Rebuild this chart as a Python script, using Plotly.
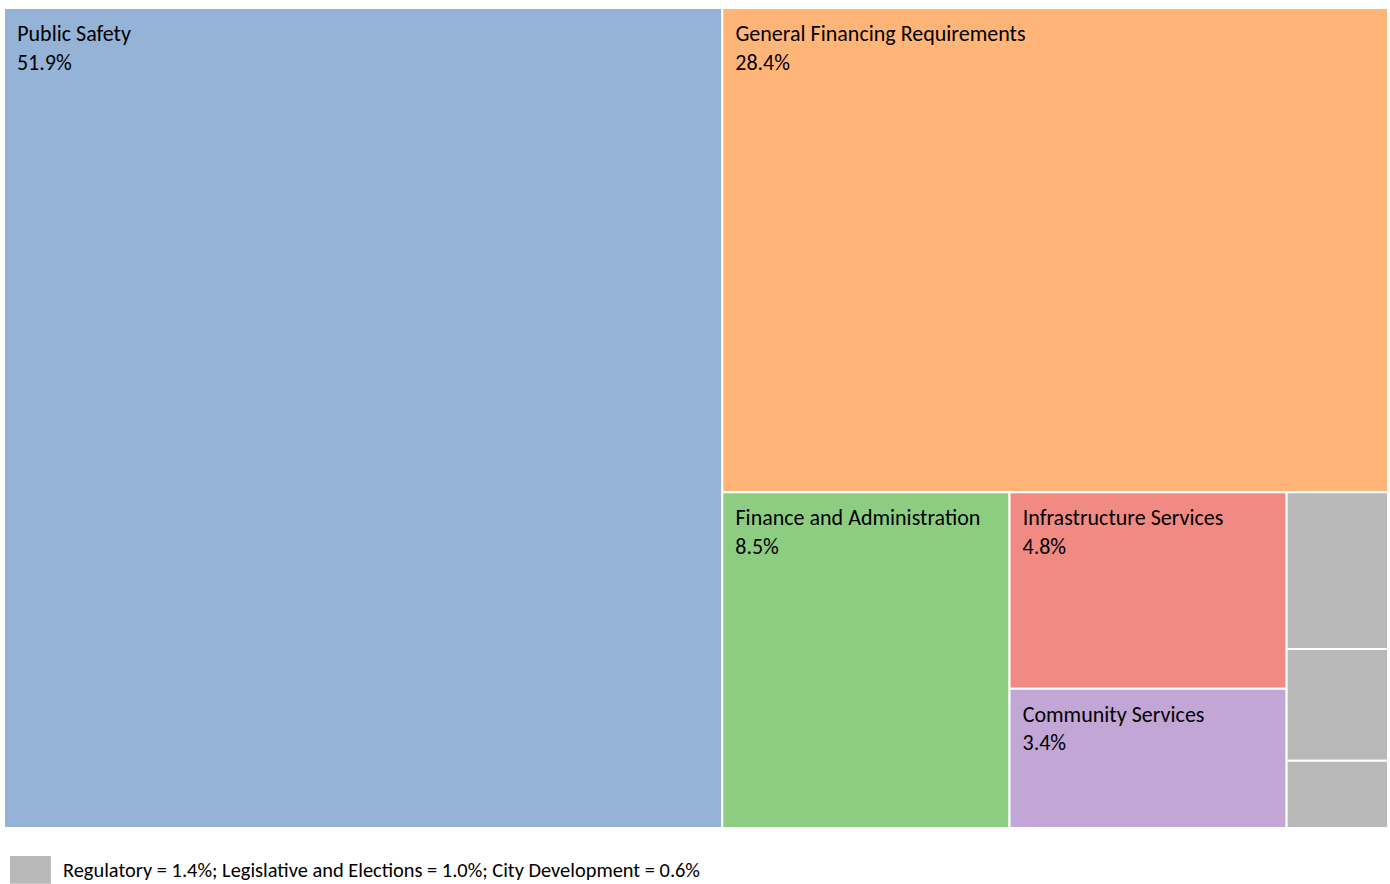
import plotly.graph_objects as go

# budget shares by service area (percent)
labels = ["Public Safety", "General Financing Requirements", "Finance and Administration",
          "Infrastructure Services", "Community Services", "Regulatory",
          "Legislative and Elections", "City Development"]
shares = [51.9, 28.4, 8.5, 4.8, 3.4, 1.4, 1.0, 0.6]
colors = ["#95B3D7", "#FFB577", "#8CCD82", "#F08A83", "#C1A6D6",
          "#B9B9B9", "#B9B9B9", "#B9B9B9"]
small_ones = labels[5:]

# tall blank in front of the label pushes the text down/right a bit, like the original
nb = "\u00a0"
lead = ("<span style='font-size:32px'>" + nb + "</span>"
        "<span style='font-size:13px'>" + nb + "</span>")
templates = []
for lab in labels:
    if lab in small_ones:
        templates.append("")
    else:
        templates.append(lead + "%{label}<br>" + nb * 2 + "%{value:.1f}%")

fig = go.Figure(go.Treemap(
    labels=labels,
    parents=[""] * len(labels),
    values=shares,
    sort=True,
    tiling=dict(packing="squarify", squarifyratio=1, pad=0),
    marker=dict(colors=colors, line=dict(color="white", width=2),
                pad=dict(t=0, l=0, r=0, b=0)),
    texttemplate=templates,
    textposition="top left",
    textfont=dict(size=22, color="black", family="Carlito, Lato, sans-serif"),
    pathbar=dict(visible=False),
    hoverinfo="label+value",
))

legend_txt = "; ".join(f"{l} = {v:.1f}%" for l, v in zip(small_ones, shares[5:]))

fig.update_layout(
    width=1390, height=884,
    margin=dict(l=4, r=2, t=8, b=56),
    paper_bgcolor="white",
    font=dict(family="Carlito, Lato, sans-serif", size=18, color="black"),
    shapes=[dict(type="rect", xref="paper", yref="paper",
                 x0=0.0043, x1=0.0339, y0=-0.068, y1=-0.034,
                 fillcolor="#B9B9B9", line=dict(width=0))],
    annotations=[dict(text=legend_txt, xref="paper", yref="paper",
                      x=0.0412, y=-0.051, xanchor="left", yanchor="middle",
                      showarrow=False, font=dict(size=20.4))],
)

# page has a default 8px body margin, drop it so the figure sits at 0,0
fig.write_html("out.html", config={"displayModeBar": False},
               post_script="document.body.style.margin='0';")
